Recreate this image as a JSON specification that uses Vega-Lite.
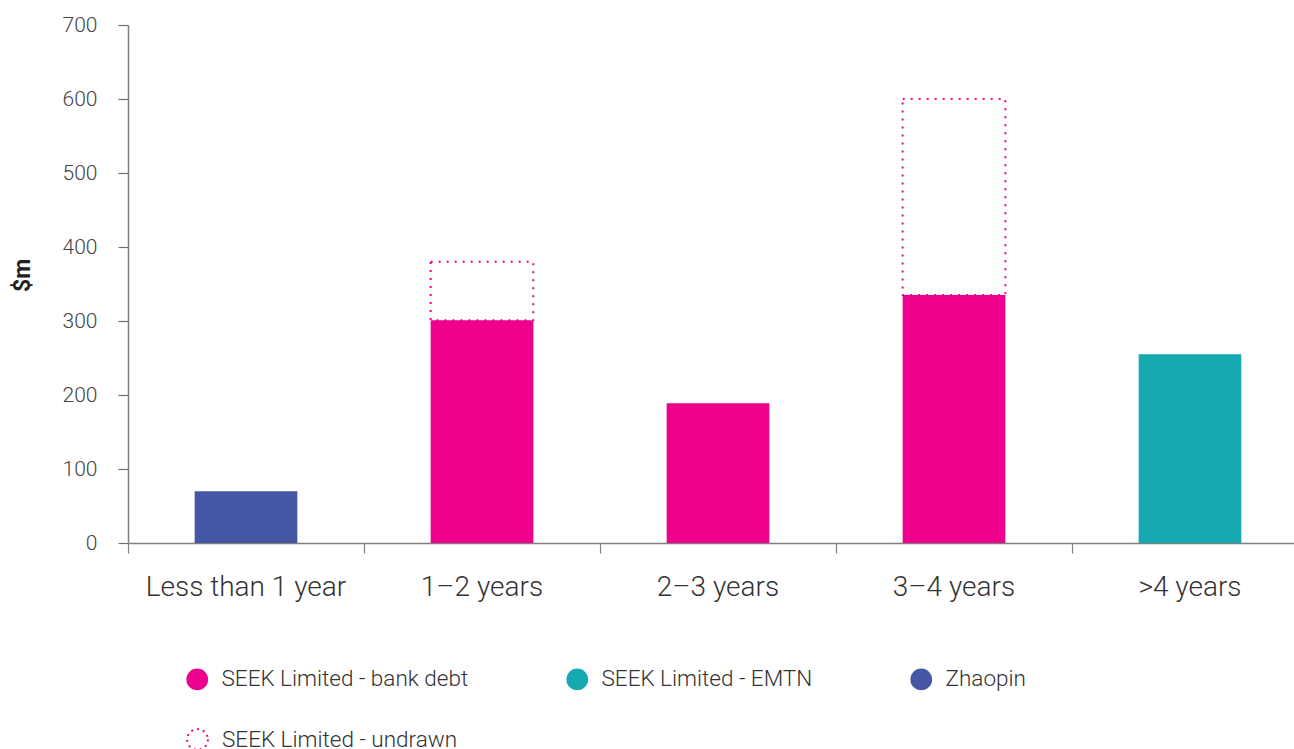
{
  "$schema": "https://vega.github.io/schema/vega-lite/v6.json",
  "width": 1180,
  "height": 518,
  "autosize": {"type": "none"},
  "padding": {"left": 128, "top": 25, "right": 0, "bottom": 206},
  "background": "white",
  "config": {"view": {"stroke": null}, "font": "Roboto"},
  "data": {"values": [
    {"maturity": "Less than 1 year", "series": "Zhaopin", "start": 0, "end": 70},
    {"maturity": "1–2 years", "series": "SEEK Limited - bank debt", "start": 0, "end": 301},
    {"maturity": "1–2 years", "series": "SEEK Limited - undrawn", "start": 301, "end": 380},
    {"maturity": "2–3 years", "series": "SEEK Limited - bank debt", "start": 0, "end": 189},
    {"maturity": "3–4 years", "series": "SEEK Limited - bank debt", "start": 0, "end": 335},
    {"maturity": "3–4 years", "series": "SEEK Limited - undrawn", "start": 335, "end": 600},
    {"maturity": ">4 years", "series": "SEEK Limited - EMTN", "start": 0, "end": 255}
  ]},
  "encoding": {
    "x": {
      "field": "maturity", "type": "nominal",
      "sort": ["Less than 1 year", "1–2 years", "2–3 years", "3–4 years", ">4 years"],
      "scale": {"paddingInner": 0, "paddingOuter": 0},
      "axis": {
        "title": null, "labelAngle": 0, "bandPosition": 0, "labelLimit": 400,
        "labelFont": "Roboto", "labelFontSize": 28, "labelFontWeight": 300, "labelColor": "#333333",
        "labelPadding": 20, "tickSize": 10, "tickColor": "#808080", "domainColor": "#808080",
        "domainWidth": 1.5, "tickWidth": 1.2, "grid": false
      }
    },
    "y": {
      "field": "end", "type": "quantitative",
      "scale": {"domain": [0, 700], "nice": false},
      "axis": {
        "title": "$m", "values": [0, 100, 200, 300, 400, 500, 600, 700],
        "titleFont": "Roboto", "titleFontSize": 23, "titleFontWeight": "bold", "titleColor": "#222222",
        "titleX": -106, "titleY": 250, "titleAngle": -90, "titleBaseline": "middle", "titleAlign": "center",
        "labelFont": "Roboto", "labelFontSize": 21, "labelFontWeight": 300, "labelColor": "#444444",
        "labelPadding": 21, "tickSize": 10, "tickColor": "#707070", "domainColor": "#808080",
        "domainWidth": 1.5, "tickWidth": 1.2, "grid": false
      }
    },
    "y2": {"field": "start"}
  },
  "layer": [
    {
      "transform": [{"filter": "datum.series !== 'SEEK Limited - undrawn'"}],
      "mark": {"type": "bar", "width": {"band": 0.435}, "opacity": 1},
      "encoding": {
        "color": {
          "field": "series", "type": "nominal",
          "scale": {
            "domain": ["SEEK Limited - bank debt", "SEEK Limited - EMTN", "Zhaopin"],
            "range": ["#EC008C", "#17A9B1", "#4556A4"]
          },
          "legend": {
            "orient": "none", "legendX": 58, "legendY": 643, "direction": "horizontal",
            "title": null, "symbolType": "circle", "symbolSize": 470, "symbolStrokeWidth": 0,
            "labelFont": "Roboto", "labelFontSize": 22.5, "labelFontWeight": 300, "labelColor": "#333333",
            "labelOffset": 13, "columnPadding": 97, "labelLimit": 400, "symbolOpacity": 1
          }
        }
      }
    },
    {
      "transform": [{"filter": "datum.series === 'SEEK Limited - undrawn'"}],
      "mark": {"type": "bar", "width": {"band": 0.435}, "filled": false, "strokeWidth": 2, "strokeDash": [2, 6], "opacity": 1},
      "encoding": {
        "stroke": {
          "field": "series", "type": "nominal",
          "scale": {"domain": ["SEEK Limited - undrawn"], "range": ["#EC008C"]},
          "legend": {
            "orient": "none", "legendX": 58, "legendY": 703, "direction": "horizontal",
            "title": null, "symbolType": "circle", "symbolSize": 430, "symbolStrokeWidth": 2,
            "symbolDash": [2, 4], "symbolFillColor": "transparent",
            "labelFont": "Roboto", "labelFontSize": 22.5, "labelFontWeight": 300, "labelColor": "#333333",
            "labelOffset": 13, "labelLimit": 400, "symbolOpacity": 1
          }
        }
      }
    }
  ],
  "resolve": {"legend": {"color": "independent", "stroke": "independent"}}
}
